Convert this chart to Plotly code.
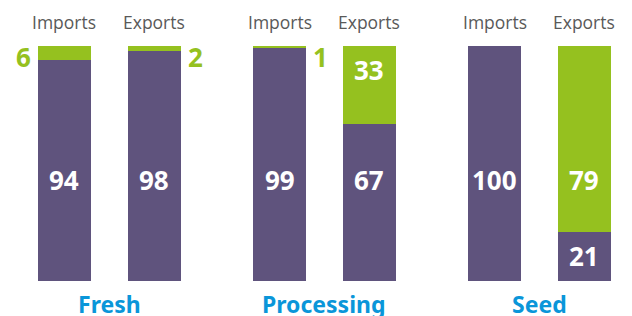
import plotly.graph_objects as go

groups = ["Fresh", "Processing", "Seed"]
flows = ["Imports", "Exports"]
# purple (bottom) share and green (top) share for each bar, in order
# Fresh-Imports, Fresh-Exports, Processing-Imports, Processing-Exports, Seed-Imports, Seed-Exports
purple_vals = [94, 98, 99, 67, 100, 21]
green_vals = [6, 2, 1, 33, 0, 79]

PURPLE = "#5f537d"
GREEN = "#95c11f"
BLUE = "#0a96d9"
GRAY = "#595959"

GROUP_STEP = 2.4
xs = []
for gi in range(len(groups)):
    for bi in range(len(flows)):
        xs.append(gi * GROUP_STEP + bi)

BAR_W = 0.59

fig = go.Figure()
fig.add_trace(go.Bar(x=xs, y=purple_vals, width=BAR_W, marker=dict(color=PURPLE, line=dict(width=0)),
                     hoverinfo="skip"))
fig.add_trace(go.Bar(x=xs, y=green_vals, width=BAR_W, marker=dict(color=GREEN, line=dict(width=0)),
                     hoverinfo="skip"))

ann = []
num_font = dict(family="Noto Sans", size=26, color="white")
MAIN_Y = 43
for i, x in enumerate(xs):
    p = purple_vals[i]
    g = green_vals[i]
    segs = [(0, p, p), (p, p + g, g)]
    for k, (lo, hi, v) in enumerate(segs):
        if v <= 0:
            continue
        if v < 10:
            # small value shown outside the bar, in green
            left = (i == 0)
            ann.append(dict(x=x + (-BAR_W / 2 if left else BAR_W / 2), y=95.3, xref="x", yref="y",
                            text="<b>%d</b>" % v, showarrow=False,
                            xanchor="right" if left else "left", yanchor="middle",
                            xshift=-5 if left else 5,
                            font=dict(family="Noto Sans", size=26, color=GREEN)))
            continue
        if lo <= MAIN_Y <= hi:
            yy = MAIN_Y
        elif k == 1:
            yy = hi - 10
        else:
            yy = (lo + hi) / 2
        ann.append(dict(x=x, y=yy, xref="x", yref="y", text="<b>%d</b>" % v, showarrow=False,
                        xanchor="center", yanchor="middle", font=num_font))

# flow labels above bars
for i, x in enumerate(xs):
    ann.append(dict(x=x, y=1.102, xref="x", yref="paper", text=flows[i % 2], showarrow=False,
                    xanchor="center", yanchor="middle",
                    font=dict(family="Open Sans", size=17.5, color=GRAY)))

# group labels below
for gi, name in enumerate(groups):
    cx = gi * GROUP_STEP + 0.5
    ann.append(dict(x=cx, y=-0.097, xref="x", yref="paper", text="<b>%s</b>" % name, showarrow=False,
                    xanchor="center", yanchor="middle",
                    font=dict(family="Noto Sans", size=23, color=BLUE)))

# page body has an 8px margin, so the figure is sized/offset to compensate
fig.update_layout(
    width=624, height=308,
    margin=dict(l=0, r=0, t=38, b=35),
    barmode="stack",
    showlegend=False,
    plot_bgcolor="white", paper_bgcolor="white",
    xaxis=dict(range=[-0.630, 6.33], visible=False, fixedrange=True),
    yaxis=dict(range=[0, 100], visible=False, fixedrange=True),
    annotations=ann,
)

fig.write_html("out.html", config={"displayModeBar": False})
